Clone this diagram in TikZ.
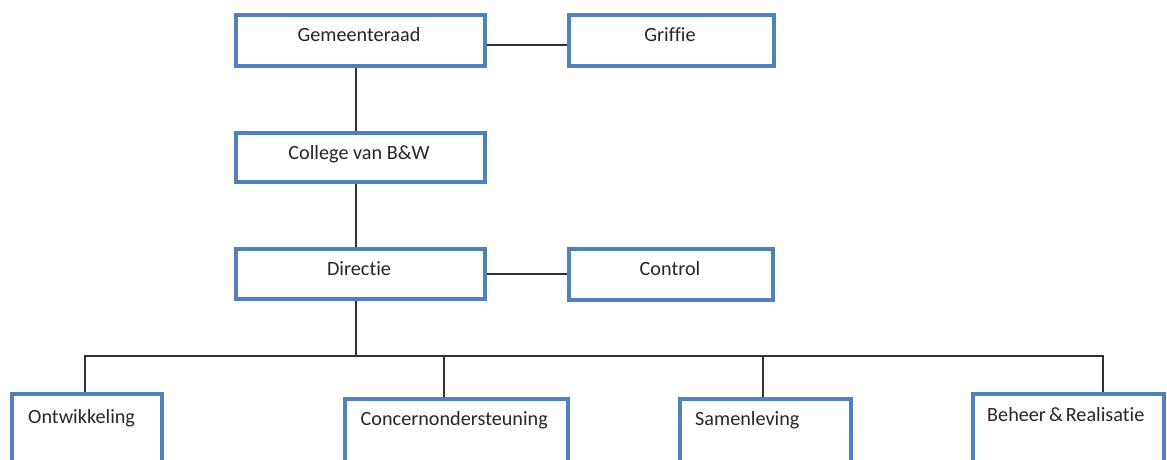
\documentclass[tikz,border=0pt]{standalone}
\usepackage{fontspec}
\setmainfont{Carlito}[Ligatures=NoCommon]
\definecolor{boxblue}{RGB}{79,129,189}
\definecolor{linegray}{RGB}{50,50,50}
\begin{document}
\begin{tikzpicture}[x=1pt,y=-1pt,
  orgbox/.style={draw=boxblue, line width=4pt, fill=white, inner sep=0pt},
  wire/.style={draw=linegray, line width=1.3pt},
  lbl/.style={inner sep=0pt, anchor=base, font=\fontsize{20.2}{23}\selectfont, text=black!85},
  lblw/.style={inner sep=0pt, anchor=base west, font=\fontsize{20.2}{23}\selectfont, text=black!85}]
\clip (0,0) rectangle (1167,459);
\fill[white] (0,0) rectangle (1167,459);

% junction of the department bus
\coordinate (bus) at (356,356);

% boxes: upper levels
\node[orgbox, minimum width=249pt, minimum height=51pt] (gem) at (360.5,40.5) {};
\node[orgbox, minimum width=205pt, minimum height=51pt] (grif) at (671.5,40.5) {};
\node[orgbox, minimum width=249pt, minimum height=49pt] (col) at (360.5,157.5) {};
\node[orgbox, minimum width=249pt, minimum height=50pt] (dir) at (360.5,274) {};
\node[orgbox, minimum width=204pt, minimum height=51pt] (ctl) at (671,274.5) {};

% boxes: departments (cut off at the bottom)
\node[orgbox, minimum width=150pt, minimum height=80pt] (ont) at (87,434) {};
\node[orgbox, minimum width=223pt, minimum height=80pt] (con) at (456.5,439) {};
\node[orgbox, minimum width=171pt, minimum height=80pt] (sam) at (765.5,439) {};
\node[orgbox, minimum width=191pt, minimum height=80pt] (beh) at (1068.5,434) {};

% lines
\draw[wire] ([yshift=-4.5pt]gem.east) -- ([yshift=-4.5pt]grif.west);
\draw[wire] ([xshift=-4.5pt]gem.south) -- ([xshift=-4.5pt]col.north);
\draw[wire] ([xshift=-4.5pt]col.south) -- ([xshift=-4.5pt]dir.north);
\draw[wire] (dir.east) -- (dir.east -| ctl.west);
\draw[wire] ([xshift=-4.5pt]dir.south) -- (bus);
\draw[wire] ([xshift=-2pt]ont.north) |- (bus);
\draw[wire] ([xshift=-12.5pt]con.north) |- (bus);
\draw[wire] ([xshift=-2.5pt]sam.north) |- (bus);
\draw[wire] ([xshift=34.5pt]beh.north) |- (bus);

% labels
\node[lbl] (gemT) at (359,41) {Gemeenteraad};
\node[lbl] (grifT) at (670,41) {Griffie};
\node[lbl] (colT) at (359,159.5) {College van B\&W};
\node[lbl] (dirT) at (359,275.5) {Directie};
\node[lbl] (ctlT) at (670,275.5) {Control};
\node[lblw] (ontT) at (28,423) {Ontwikkeling};
\node[lblw] (conT) at (360.5,425) {Concernondersteuning};
\node[lblw] (samT) at (695,425) {Samenleving};
\node[lblw] (behT) at (987,421) {Beheer\hspace{0.15em}\&\hspace{0.15em}Realisatie};
\end{tikzpicture}
\end{document}
